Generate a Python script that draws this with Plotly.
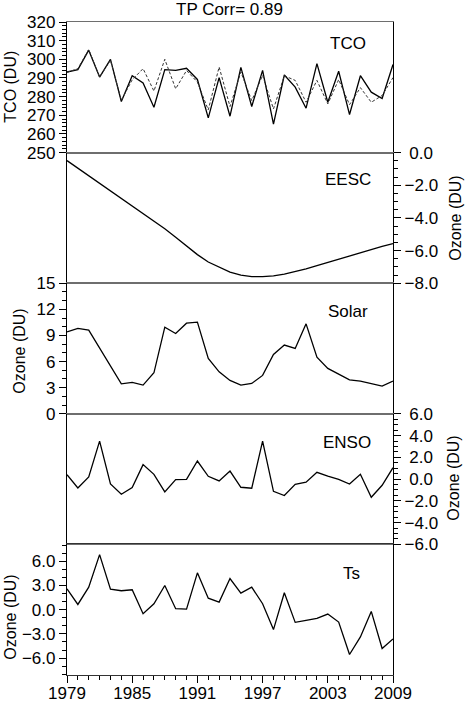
import plotly.graph_objects as go

# yearly values
years = list(range(1979, 2010))

tco_obs = [293.2, 294.5, 304.9, 290.5, 300.0, 277.4, 291.2, 287.3, 274.3, 294.5,
           294.1, 295.2, 289.2, 268.6, 290.2, 269.5, 295.7, 274.7, 294.1, 265.3,
           291.6, 285.1, 273.8, 297.7, 277.0, 293.6, 270.4, 291.2, 282.4, 279.0,
           297.2]
tco_fit = [293.0, 295.0, 305.3, 290.5, 299.5, 278.0, 289.0, 295.0, 283.0, 300.0,
           284.2, 294.0, 287.8, 272.9, 295.9, 274.7, 293.2, 277.9, 291.4, 273.4,
           291.2, 288.7, 277.0, 288.7, 276.1, 289.1, 275.7, 284.8, 277.0, 280.6,
           290.2]
eesc = [-0.49, -0.95, -1.41, -1.87, -2.33, -2.79, -3.25, -3.72, -4.19, -4.67,
        -5.18, -5.71, -6.25, -6.70, -7.02, -7.32, -7.50, -7.60, -7.60, -7.55,
        -7.45, -7.30, -7.12, -6.92, -6.72, -6.52, -6.33, -6.13, -5.94, -5.75,
        -5.57]
solar = [9.41, 9.80, 9.61, 7.58, 5.48, 3.44, 3.60, 3.30, 4.71, 9.95,
         9.23, 10.41, 10.53, 6.36, 4.82, 3.83, 3.30, 3.49, 4.41, 6.82,
         7.89, 7.51, 10.33, 6.51, 5.21, 4.52, 3.90, 3.75, 3.44, 3.18,
         3.75]
enso = [0.41, -0.81, 0.19, 3.49, -0.45, -1.39, -0.78, 1.33, 0.44, -1.18,
        -0.05, -0.02, 1.66, 0.26, -0.17, 0.74, -0.75, -0.84, 3.49, -1.12,
        -1.51, -0.48, -0.29, 0.62, 0.28, -0.02, -0.45, 0.44, -1.67, -0.57,
        1.05]
ts = [2.59, 0.65, 2.79, 6.83, 2.54, 2.35, 2.47, -0.49, 0.74, 3.00,
      0.12, 0.07, 4.57, 1.43, 0.94, 3.86, 2.05, 2.79, 0.74, -2.47,
      2.10, -1.57, -1.32, -1.07, -0.54, -1.53, -5.56, -3.38, -0.21, -4.81,
      -3.63]

panel_names = ["TCO", "EESC", "Solar", "ENSO", "Ts"]

FONT = "Liberation Sans, Arial, Helvetica, sans-serif"
FRAME = "#6e6e6e"
W, H = 467, 701
LEFT, RIGHT = 67.3, 393.3
TOP, BOTTOM = 22, 675
TICK_SIZE = 17


def px_x(p):
    # pixel column -> paper x
    return (p - LEFT) / (RIGHT - LEFT)


def px_y(p):
    # pixel row -> paper y
    return (BOTTOM - p) / (BOTTOM - TOP)


fig = go.Figure()

line = dict(color="black", width=1.3)
fig.add_trace(go.Scatter(x=years, y=tco_obs, mode="lines", line=line,
                         xaxis="x", yaxis="y"))
fig.add_trace(go.Scatter(x=years, y=tco_fit, mode="lines",
                         line=dict(color="#333333", width=1, dash="3px,2px"),
                         xaxis="x", yaxis="y"))
for i, series in enumerate([eesc, solar, enso, ts], start=2):
    fig.add_trace(go.Scatter(x=years, y=series, mode="lines", line=line,
                             xaxis=f"x{i}", yaxis=f"y{i}"))

# axis settings per panel: range, side, major step, minor step, format
axis_cfg = [
    dict(range=[250, 320], side="left", dtick=10, minor=2, fmt="d"),
    dict(range=[-8, 0], side="right", dtick=2, minor=0.5, fmt=".1f"),
    dict(range=[0, 15], side="left", dtick=3, minor=1, fmt="d"),
    dict(range=[-6, 6], side="right", dtick=2, minor=0.5, fmt=".1f"),
    dict(range=[-8.1, 8.1], side="left", dtick=3, minor=1, fmt=".1f"),
]

alias = {"0.0": "\u20080.0", "2.0": "\u20082.0", "4.0": "\u20084.0",
         "6.0": "\u20086.0"}

layout_axes = {}
for i, cfg in enumerate(axis_cfg, start=1):
    sfx = "" if i == 1 else str(i)
    top = 1 - (i - 1) * 0.2
    bottom = 1 - i * 0.2
    bottom_panel = i == 5
    layout_axes[f"xaxis{sfx}"] = dict(
        domain=[0, 1], anchor=f"y{sfx}", range=[1979, 2009],
        showline=True, linecolor="#333333" if bottom_panel else FRAME,
        linewidth=1.2, mirror=True, showgrid=False, zeroline=False,
        automargin=False,
        showticklabels=bottom_panel,
        ticks="outside" if bottom_panel else "",
        tick0=1979, dtick=6, ticklen=7, tickcolor="black",
        ticklabelstandoff=-5,
        minor=dict(dtick=1, tick0=1979, ticks="outside" if bottom_panel else "",
                   ticklen=4, tickcolor="black", showgrid=False),
        tickfont=dict(family=FONT, size=TICK_SIZE, color="black"),
    )
    if i > 1:
        layout_axes[f"xaxis{sfx}"]["matches"] = "x"
    ya = dict(
        domain=[max(bottom, 0), min(top, 1)], anchor=f"x{sfx}",
        range=cfg["range"], side=cfg["side"],
        showline=True, linecolor="black", linewidth=1.3, mirror=True,
        showgrid=False, zeroline=False, automargin=False,
        ticks="outside", ticklen=7, tickcolor="black",
        tick0=0, dtick=cfg["dtick"], tickformat=cfg["fmt"],
        minor=dict(dtick=cfg["minor"], tick0=0, ticks="outside", ticklen=4,
                   tickcolor="black", showgrid=False),
        tickfont=dict(family=FONT, size=TICK_SIZE, color="black"),
    )
    if cfg["side"] == "right":
        ya["labelalias"] = alias
    layout_axes[f"yaxis{sfx}"] = ya


def note(text, x, y, size=16, angle=0):
    return dict(text=text, x=px_x(x), y=px_y(y), xref="paper", yref="paper",
                xanchor="center", yanchor="middle", showarrow=False,
                textangle=angle, font=dict(family=FONT, size=size, color="black"))


annotations = [note("TP Corr= 0.89", 230, 9, size=17)]

# panel labels
label_pos = [(348, 43), (348, 179), (348, 311), (347, 442), (352, 573)]
for name, (lx, ly) in zip(panel_names, label_pos):
    annotations.append(note(name, lx, ly, size=17))

# axis titles
titles = [("TCO (DU)", 10, 87), ("Ozone (DU)", 456, 218),
          ("Ozone (DU)", 19, 351), ("Ozone (DU)", 454, 478),
          ("Ozone (DU)", 10, 617)]
for text, tx, ty in titles:
    annotations.append(note(text, tx, ty, size=16, angle=-90))

fig.update_layout(
    width=W, height=H, autosize=False,
    margin=dict(l=LEFT, r=W - RIGHT, t=TOP, b=H - BOTTOM, pad=0),
    paper_bgcolor="white", plot_bgcolor="white",
    showlegend=False,
    font=dict(family=FONT, size=16, color="black"),
    annotations=annotations,
    **layout_axes,
)

fig.write_html("out.html", config={"displayModeBar": False},
               post_script="document.body.style.margin='0';")
